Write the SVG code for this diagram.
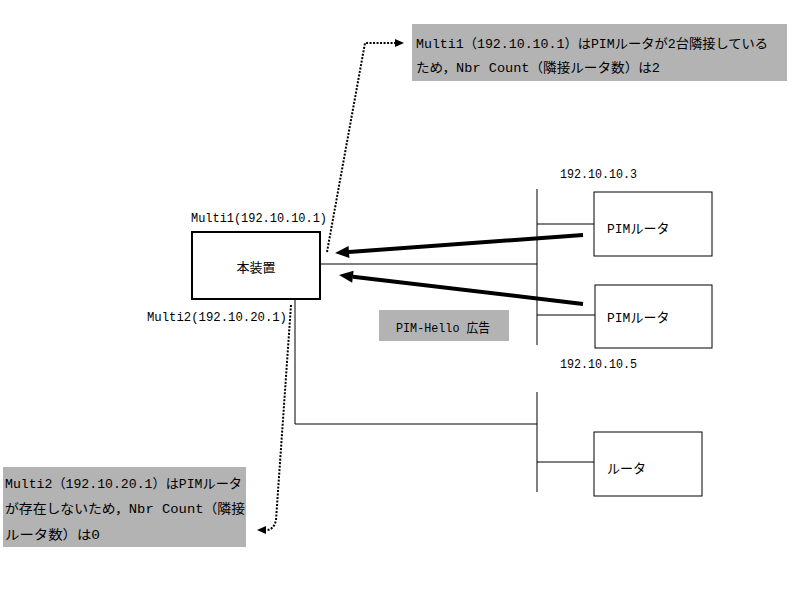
<svg xmlns="http://www.w3.org/2000/svg" width="797" height="590" viewBox="0 0 797 590">
<style>
text{font-family:"Liberation Mono","Noto Sans CJK JP",monospace;font-size:13px;fill:#000}
.box{fill:#fff;stroke:#000;stroke-width:1}
.main{fill:#fff;stroke:#000;stroke-width:2}
.note{fill:#b3b3b3;stroke:none}
.ln{stroke:#000;stroke-width:1;fill:none}
.thick{stroke:#000;stroke-width:4;fill:none}
.dot{stroke:#000;stroke-width:2;fill:none;stroke-dasharray:2 1.5}
</style>
<defs>
<marker id="big" markerUnits="userSpaceOnUse" markerWidth="16" markerHeight="12" refX="0" refY="6" orient="auto" overflow="visible">
<path d="M0,0 L14,6 L0,12 z" fill="#000"/>
</marker>
<marker id="small" markerUnits="userSpaceOnUse" markerWidth="10" markerHeight="8" refX="0" refY="4" orient="auto" overflow="visible">
<path d="M0,0 L9,4 L0,8 z" fill="#000"/>
</marker>
</defs>
<rect width="797" height="590" fill="#fff"/>

<g id="connectors">
<line class="ln" x1="320" y1="264" x2="537" y2="264"/>
<line class="ln" x1="537" y1="189" x2="537" y2="345"/>
<line class="ln" x1="537" y1="224" x2="594" y2="224"/>
<line class="ln" x1="537" y1="315" x2="595" y2="315"/>
<polyline class="ln" points="295,299 295,424 537,424"/>
<line class="ln" x1="537" y1="392" x2="537" y2="492"/>
<line class="ln" x1="537" y1="462" x2="594" y2="462"/>
<line class="thick" x1="583" y1="235" x2="349" y2="252" marker-end="url(#big)"/>
<line class="thick" x1="583" y1="304" x2="352.9" y2="276.7" marker-end="url(#big)"/>
<polyline class="dot" points="327,252 365,43 395,43" marker-end="url(#small)"/>
<path class="dot" d="M291,305 L276,520 Q274,530 266,530" marker-end="url(#small)"/>
</g>

<g id="node-main">
<rect class="main" x="192" y="232" width="128" height="67"/>
<text x="256" y="272" text-anchor="middle" font-size="14">本装置</text>
</g>
<g id="label-multi1">
<text x="191" y="222" textLength="136" lengthAdjust="spacingAndGlyphs">Multi1(192.10.10.1)</text>
</g>
<g id="label-multi2">
<text x="147" y="321" textLength="140" lengthAdjust="spacingAndGlyphs">Multi2(192.10.20.1)</text>
</g>

<g id="node-pim1">
<rect class="box" x="594" y="192" width="118" height="64"/>
<text x="607" y="233">PIMルータ</text>
</g>
<g id="node-pim2">
<rect class="box" x="595" y="285" width="117" height="63"/>
<text x="607" y="322">PIMルータ</text>
</g>
<g id="node-router">
<rect class="box" x="594" y="432" width="108" height="64"/>
<text x="607" y="473">ルータ</text>
</g>
<g id="label-ip3">
<text x="560" y="178" textLength="77" lengthAdjust="spacingAndGlyphs">192.10.10.3</text>
</g>
<g id="label-ip5">
<text x="560" y="368" textLength="77" lengthAdjust="spacingAndGlyphs">192.10.10.5</text>
</g>

<g id="label-hello">
<rect class="note" x="379" y="310" width="130" height="31"/>
<text x="396" y="332" textLength="94" lengthAdjust="spacingAndGlyphs">PIM-Hello 広告</text>
</g>

<g id="note-top">
<rect class="note" x="412" y="24" width="375" height="57"/>
<text x="416" y="48" textLength="352" lengthAdjust="spacingAndGlyphs">Multi1（192.10.10.1）はPIMルータが2台隣接している</text>
<text x="416" y="72" textLength="244" lengthAdjust="spacingAndGlyphs">ため，Nbr Count（隣接ルータ数）は2</text>
</g>

<g id="note-bottom">
<rect class="note" x="3" y="467" width="243" height="80"/>
<text x="5" y="488" textLength="237" lengthAdjust="spacingAndGlyphs">Multi2（192.10.20.1）はPIMルータ</text>
<text x="5" y="513" textLength="240" lengthAdjust="spacingAndGlyphs">が存在しないため，Nbr Count（隣接</text>
<text x="5" y="539" textLength="95" lengthAdjust="spacingAndGlyphs">ルータ数）は0</text>
</g>
</svg>
